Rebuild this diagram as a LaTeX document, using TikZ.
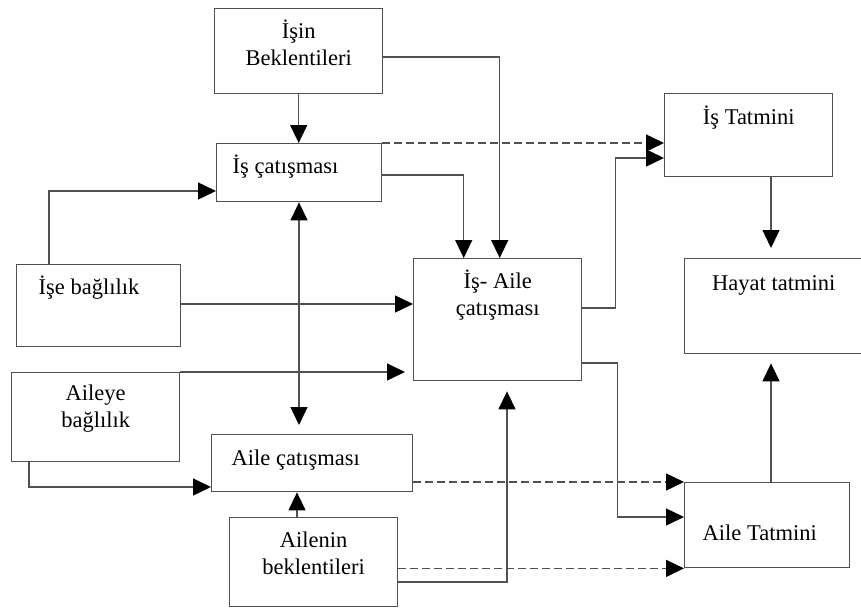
\documentclass[tikz,border=0pt]{standalone}
\usepackage{fontspec}
\setmainfont{Liberation Serif}
\usepackage{xcolor}
\definecolor{Col1}{RGB}{80,80,80}
\definecolor{Col2}{RGB}{0,0,0}
\usepackage{tikz}
\usetikzlibrary{arrows.meta}
\newcommand{\BoxText}[4]{\parbox[c][#2pt][t]{#1pt}{\vspace*{#3pt}#4}}
\tikzstyle{Box}=[draw=Col1,line width=1.4pt,inner sep=0pt,anchor=north west,
font=\fontsize{22.5}{27}\selectfont]
\tikzstyle{Edge}=[draw=Col1,line width=1.4pt,->]
\tikzstyle{DashEdge}=[Edge,dash pattern=on 8pt off 4pt]
\tikzstyle{BothEdge}=[Edge,<->]

\begin{document}
\begin{tikzpicture}[x=1pt,y=-1pt,>={Triangle[length=18pt,width=17pt,color=Col2]}]
        \useasboundingbox(0,0)rectangle(861,607);
        \node[Box](isin)at(214,8)
            {\BoxText{168}{85}{11}{\centering\strut İşin\\\strut Beklentileri}};
        \node[Box](iscat)at(216,143)
            {\BoxText{165}{58}{11}{\hspace*{16pt}\strut İş çatışması}};
        \node[Box](isebag)at(16,264)
            {\BoxText{164}{82}{11}{\hspace*{22pt}\strut İşe bağlılık}};
        \node[Box](aileyebag)at(11,372)
            {\BoxText{168}{89}{9}{\centering\strut Aileye\\\strut bağlılık}};
        \node[Box](ailecat)at(211,434)
            {\BoxText{201}{57}{12}{\hspace*{20pt}\strut Aile çatışması}};
        \node[Box](ailebek)at(229,517)
            {\BoxText{168}{89}{11}{\centering\strut Ailenin\\\strut beklentileri}};
        \node[Box](isaile)at(413,258)
            {\BoxText{168}{122}{11}{\centering\strut İş- Aile\\\strut çatışması}};
        \node[Box](istat)at(664,93)
            {\BoxText{168}{83}{12}{\centering\strut İş Tatmini}};
        \node[Box](hayat)at(684,258)
            {\BoxText{178}{95}{13}{\centering\strut Hayat tatmini}};
        \node[Box](ailetat)at(684,482)
            {\BoxText{165}{85}{39}{\hspace*{18pt}\strut Aile Tatmini}};
        \coordinate(hx)at(771,0);
        \draw[Edge](isin.south)--(isin.south|-iscat.north);
        \draw[Edge](isin.east|-0,57)-|([xshift=2pt]isaile.north);
        \draw[Edge](iscat.east|-0,175)-|([xshift=-34pt]isaile.north);
        \draw[DashEdge](iscat.north east)--(istat.west|-iscat.north east);
        \draw[Edge](isaile.east|-0,308)--++(33,0)|-(istat.west|-0,158);
        \draw[Edge,shorten >=10pt](istat.south-|hx)--(hayat.north-|hx);
        \draw[Edge,shorten >=9pt](ailetat.north-|hx)--(hayat.south-|hx);
        \draw[Edge]([xshift=33pt]isebag.north west)|-(iscat.west|-0,191);
        \draw[Edge](isebag.east|-0,304)--(isaile.west|-0,304);
        \draw[Edge,shorten >=8pt](aileyebag.north east)--(isaile.west|-aileyebag.north east);
        \draw[Edge]([xshift=18pt]aileyebag.south west)|-(ailecat.west|-0,487);
        \draw[BothEdge,shorten >=9pt](iscat.south-|299,0)--(ailecat.north-|299,0);
        \draw[Edge](ailebek.north-|297,0)--(ailecat.south-|297,0);
        \draw[DashEdge](ailecat.east|-ailetat.north west)--(ailetat.north west);
        \draw[DashEdge](ailebek.east|-ailetat.south west)--(ailetat.south west);
        \draw[Edge,shorten >=10pt](ailebek.east|-0,582)-|(isaile.south-|507,0);
        \draw[Edge](isaile.east|-0,363)--++(35,0)|-(ailetat.west|-0,517);
    \end{tikzpicture}
\end{document}
